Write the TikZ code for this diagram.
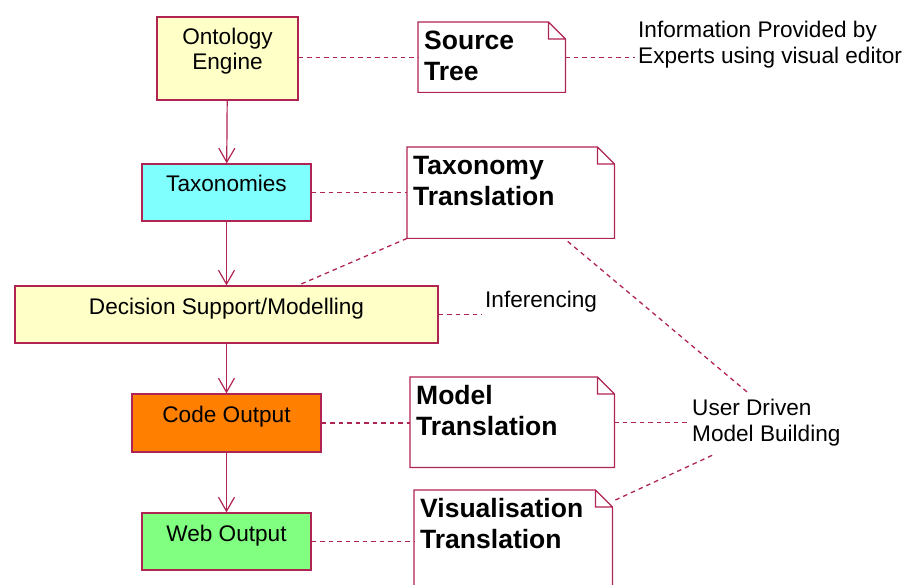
\documentclass[tikz,border=0pt]{standalone}
\usepackage{fontspec}
\setmainfont{Liberation Sans}
\usetikzlibrary{arrows.meta,calc}
\definecolor{brd}{HTML}{B02452}
\definecolor{paleyellow}{HTML}{FFFFC8}
\definecolor{aqua}{HTML}{80FFFF}
\definecolor{orng}{HTML}{FF8000}
\definecolor{lgreen}{HTML}{80FF80}
\newcommand{\boxtext}[3]{\parbox[c][#2pt][t]{#1pt}{\centering\rule{0pt}{28pt}#3}}
\newcommand{\notetext}[3]{\parbox[c][#2pt][t]{\dimexpr#1pt-12pt\relax}{\raggedright\rule{0pt}{27pt}#3}}
\tikzset{
  unit/.style={draw=brd, line width=1.2pt, inner sep=0pt, font=\fontsize{22.6}{25}\selectfont},
  note/.style={anchor=north west, inner xsep=6pt, inner ysep=0pt, font=\fontsize{26.5}{31}\selectfont\bfseries},
  remark/.style={inner xsep=3pt, inner ysep=0pt, align=left, font=\fontsize{22.6}{26}\selectfont},
  link/.style={draw=brd, line width=1.3pt, dash pattern=on 4.5pt off 4pt},
  flow/.style={draw=brd, line width=1.2pt, -{Straight Barb[length=14pt,width=16pt]}},
}
\begin{document}
\begin{tikzpicture}[x=1pt,y=-1pt]
\useasboundingbox (0,0) rectangle (904,585);
\clip (0,0) rectangle (904,585);
% main chain
\node[unit, fill=paleyellow] (onto) at (227.5,58.5) {\boxtext{141}{83}{Ontology\\Engine}};
\node[unit, fill=aqua] (taxo) at (226.5,192.5) {\boxtext{169}{57}{Taxonomies}};
\node[unit, fill=paleyellow] (dss) at (226.5,314.5) {\boxtext{423}{57}{Decision Support/Modelling}};
\node[unit, fill=orng] (code) at (226.5,423) {\boxtext{189}{58}{Code Output}};
\node[unit, fill=lgreen] (web) at (226.5,541.5) {\boxtext{169}{57}{Web Output}};
% notes
\node[note] (src) at (418,22) {\notetext{147}{70}{Source\\Tree}};
\node[note] (taxn) at (407,147) {\notetext{207}{91}{Taxonomy\\Translation}};
\node[note] (mod) at (410,377) {\notetext{204}{90}{Model\\Translation}};
\node[note] (vis) at (414,490) {\notetext{198}{100}{Visualisation\\Translation}};
\foreach \n in {src,taxn,mod,vis}
  \draw[brd, line width=1.2pt] (\n.north west) -- ([xshift=-17pt]\n.north east)
    -- ([yshift=-17pt]\n.north east) -- (\n.south east) -- (\n.south west) -- cycle
    ([xshift=-17pt]\n.north east) |- ([yshift=-17pt]\n.north east);
% free text
\node[remark, anchor=north west] (info) at (635,21) {Information Provided by\\Experts using visual editor};
\node[remark, anchor=west] (infer) at (482,302) {Inferencing};
\node[remark, anchor=north west] (user) at (689,399) {User Driven\\Model Building};
% arrows
\draw[flow] (onto) -- (taxo);
\draw[flow] (taxo) -- (dss);
\draw[flow] (dss) -- (code);
\draw[flow] (code) -- (web);
% dashed links
\draw[link] (onto.east |- src.east) -- (src.east -| src.west);
\draw[link] (src.east) -- (src.east -| info.west);
\draw[link] (taxo.east) -- (taxo.east -| taxn.west);
\draw[link] (taxn.south west) -- ([xshift=71.5pt]dss.north);
\draw[link] ([xshift=57pt,yshift=-3pt]taxn.south) -- ([shift={(-18pt,6pt)}]user.north);
\draw[link] (dss.east) -- (dss.east -| infer.west);
\draw[link] (code.east) -- (code.east -| mod.west);
\draw[link] (mod.east) -- (mod.east -| user.west);
\draw[link] (web.east) -- (web.east -| vis.west);
\draw[link] ([shift={(3pt,-10pt)}]vis.north east) -- ([shift={(25pt,-8pt)}]user.south west);
\end{tikzpicture}
\end{document}
